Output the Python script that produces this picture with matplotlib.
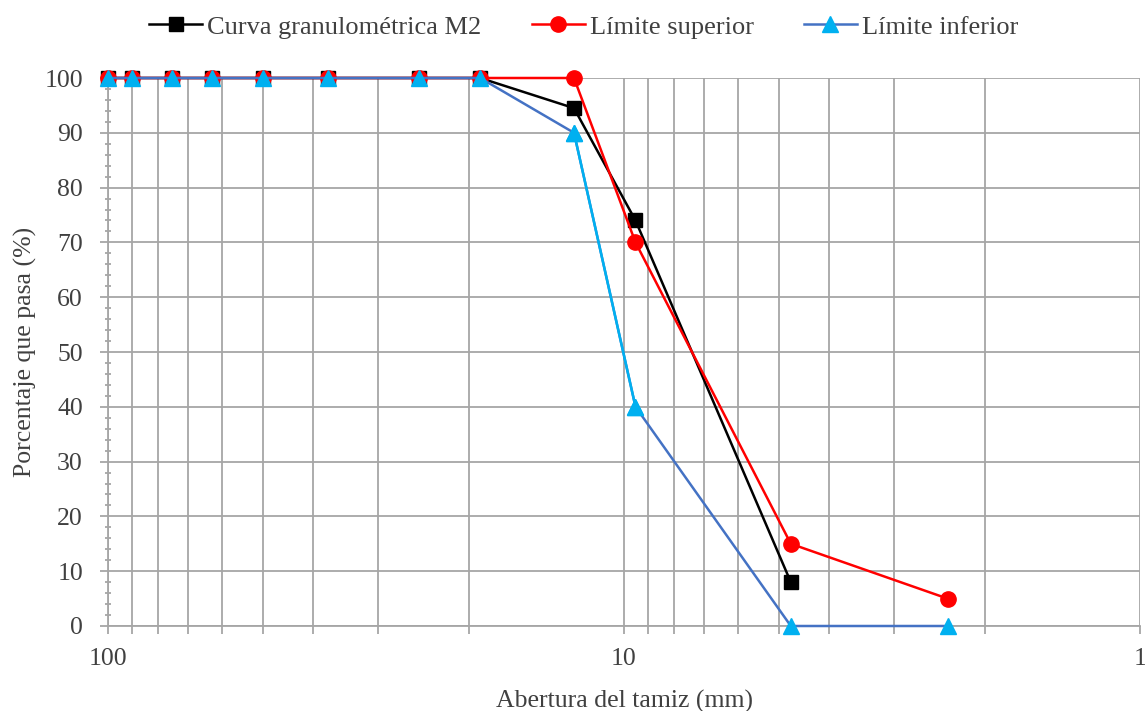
import matplotlib
matplotlib.use("Agg")
import matplotlib.pyplot as plt
from matplotlib.ticker import FixedLocator, NullFormatter, FixedFormatter, MultipleLocator

sieve_mm = [100, 90, 75, 63, 50, 37.5, 25, 19, 12.5, 9.5, 4.75, 2.36]
m2_x = [100, 90, 75, 63, 50, 37.5, 25, 19, 12.5, 9.5, 4.75]
m2_y = [100, 100, 100, 100, 100, 100, 100, 100, 94.5, 74, 8]
sup_y = [100, 100, 100, 100, 100, 100, 100, 100, 100, 70, 15, 5]
inf_y = [100, 100, 100, 100, 100, 100, 100, 100, 90, 40, 0, 0]

labels = ["Curva granulométrica M2", "Límite superior", "Límite inferior"]
x_major = [100, 10, 1]
x_grid = [100, 90, 80, 70, 60, 50, 40, 30, 20, 10, 9, 8, 7, 6, 5, 4, 3, 2, 1]

plt.rcParams['font.family'] = ['Liberation Serif', 'DejaVu Serif']
txt = '#404040'
grid_c = '#A6A6A6'
fs = 18.5

fig = plt.figure(figsize=(11.45, 7.11), dpi=100)
ax = fig.add_axes([108/1145, 1-626/711, (1140-108)/1145, (626-78)/711])
ax.set_xscale('log')
ax.set_xlim(100, 1)
ax.set_ylim(0, 100)

ax.plot(m2_x, m2_y, color='black', lw=1.8, marker='s', ms=10.5, mfc='black', mec='black',
        label=labels[0], zorder=3, clip_on=False)
ax.plot(sieve_mm, sup_y, color='#FF0000', lw=1.8, marker='o', ms=11, mfc='#FF0000', mec='#FF0000',
        label=labels[1], zorder=4, clip_on=False)
ax.plot(sieve_mm, inf_y, color='#4472C4', lw=1.8, marker='^', ms=11, mfc='#00B0F0', mec='#00B0F0',
        label=labels[2], zorder=5, clip_on=False)
ax.plot(sieve_mm[8:10], inf_y[8:10], color='#00B0F0', lw=1.8, zorder=5)
ax.plot(sieve_mm[8:10], inf_y[8:10], ls='none', marker='^', ms=11, mfc='#00B0F0', mec='#00B0F0', zorder=6)

ax.xaxis.set_major_locator(FixedLocator(x_major))
ax.xaxis.set_major_formatter(FixedFormatter([str(v) for v in x_major]))
ax.xaxis.set_minor_locator(FixedLocator(x_grid))
ax.xaxis.set_minor_formatter(NullFormatter())
ax.yaxis.set_major_locator(MultipleLocator(10))
ax.yaxis.set_minor_locator(MultipleLocator(2))

ax.grid(True, which='both', axis='x', color=grid_c, lw=1.3)
ax.grid(True, which='major', axis='y', color=grid_c, lw=1.3)
ax.set_axisbelow(True)

for s in ['top', 'right']:
    ax.spines[s].set_visible(False)
for s in ['left', 'bottom']:
    ax.spines[s].set_color(grid_c)
    ax.spines[s].set_linewidth(1.3)

ax.tick_params(axis='x', which='major', length=6, width=1.3, color=grid_c, labelsize=fs,
               labelcolor=txt, pad=10, direction='out')
ax.tick_params(axis='x', which='minor', length=6, width=1.3, color=grid_c, direction='out')
ax.tick_params(axis='y', which='major', length=6, width=1.3, color=grid_c, labelsize=fs,
               labelcolor=txt, pad=12, direction='out')
ax.tick_params(axis='y', which='minor', length=5, width=1.3, color=grid_c, direction='inout')

ax.set_xlabel("Abertura del tamiz (mm)", fontsize=fs, color=txt, labelpad=14)
ax.set_ylabel("Porcentaje que pasa (%)", fontsize=fs, color=txt, labelpad=5.5)

leg = fig.legend(loc='center', bbox_to_anchor=(0.51, 1-27/711), ncol=3, frameon=False,
                 fontsize=19, handlelength=2.0, handletextpad=0.2, columnspacing=1.9)
for t in leg.get_texts():
    t.set_color(txt)

fig.savefig("out.png", dpi=100)
